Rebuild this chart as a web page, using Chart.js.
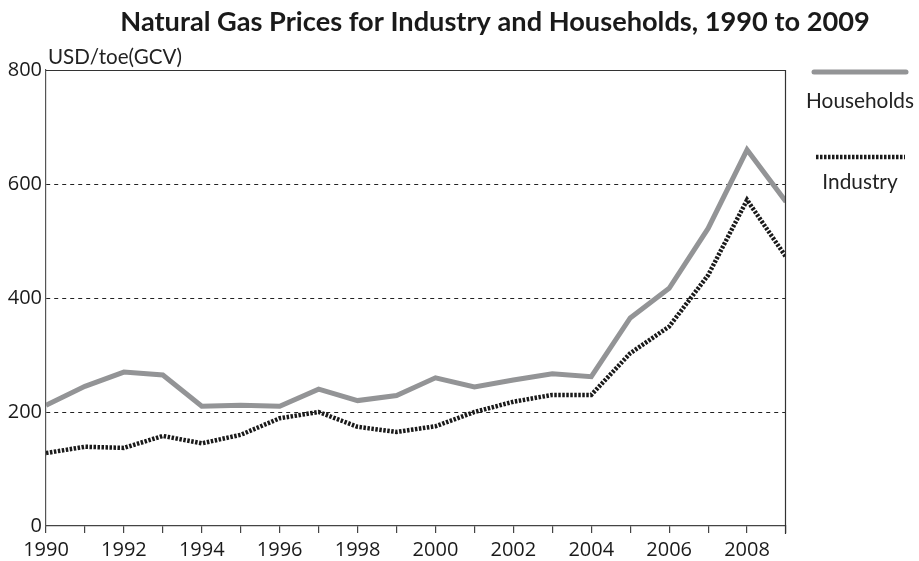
<!DOCTYPE html>
<html>
<head>
<meta charset="utf-8">
<script src="https://cdn.jsdelivr.net/npm/chart.js@4.4.1/dist/chart.umd.min.js"></script>
<style>
html,body{margin:0;padding:0;background:#fff;}
#wrap{width:919px;height:561px;position:relative;}
</style>
</head>
<body>
<div id="wrap"><canvas id="c" width="919" height="561"></canvas></div>
<script>
const years = [1990,1991,1992,1993,1994,1995,1996,1997,1998,1999,2000,2001,2002,2003,2004,2005,2006,2007,2008,2009];
const households = [212,245,270,265,210,212,210,240,220,229,260,244,256,267,262,365,417,522,660,569];
const industry = [128,139,137,158,145,160,189,200,174,165,175,200,218,230,230,303,350,440,572,472];
const yTicks = [0,200,400,600,800];
const xLabelYears = [1990,1992,1994,1996,1998,2000,2002,2004,2006,2008];
const titleText = 'Natural Gas Prices for Industry and Households, 1990 to 2009';
const unitText = 'USD/toe(GCV)';
const seriesNames = ['Households','Industry'];

const FONT = "'Open Sans', 'DejaVu Sans', sans-serif";
const TITLE_FONT = "'Lato', 'DejaVu Sans', sans-serif";
const LABEL_FONT = "'Lato', 'DejaVu Sans', sans-serif";

function fitFont(ctx, text, weight, family, targetW) {
  ctx.font = weight + ' 20px ' + family;
  const w = ctx.measureText(text).width;
  return 20 * targetW / w;
}

const decorPlugin = {
  id: 'decor',
  afterDraw(chart) {
    const ctx = chart.ctx;
    const a = chart.chartArea;
    ctx.save();
    // frame top and right
    ctx.strokeStyle = '#333';
    ctx.lineWidth = 1.2;
    ctx.beginPath();
    ctx.moveTo(a.left, a.top + 0.5);
    ctx.lineTo(a.right - 0.5, a.top + 0.5);
    ctx.lineTo(a.right - 0.5, a.bottom + 8);
    ctx.stroke();
    // title
    const ts = fitFont(ctx, titleText, 'bold', TITLE_FONT, 750);
    ctx.font = 'bold ' + ts + 'px ' + TITLE_FONT;
    ctx.fillStyle = '#1a1a1a';
    ctx.textAlign = 'center';
    ctx.textBaseline = 'middle';
    ctx.fillText(titleText, 495, 22);
    // unit
    const us = fitFont(ctx, unitText, 'normal', LABEL_FONT, 134);
    ctx.font = us + 'px ' + LABEL_FONT;
    ctx.textAlign = 'left';
    ctx.fillStyle = '#222';
    ctx.fillText(unitText, 48, 57);
    // legend
    const ds = chart.data.datasets;
    const items = [{y: 72, ty: 101, x0: 814, x1: 906}, {y: 157, ty: 182, x0: 816, x1: 905}];
    const ls = fitFont(ctx, ds[0].label, 'normal', LABEL_FONT, 108);
    ds.forEach((d, i) => {
      ctx.strokeStyle = d.borderColor;
      ctx.lineWidth = d.borderWidth;
      ctx.setLineDash(d.borderDash || []);
      ctx.lineCap = i === 0 ? 'round' : 'butt';
      ctx.beginPath();
      ctx.moveTo(items[i].x0, items[i].y);
      ctx.lineTo(items[i].x1, items[i].y);
      ctx.stroke();
      ctx.setLineDash([]);
      ctx.font = ls + 'px ' + LABEL_FONT;
      ctx.fillStyle = '#222';
      ctx.textAlign = 'center';
      ctx.fillText(d.label, 860, items[i].ty);
    });
    ctx.restore();
  }
};

new Chart(document.getElementById('c'), {
  type: 'line',
  data: {
    datasets: [
      {
        label: seriesNames[0],
        data: years.map((y, i) => ({x: y, y: households[i]})),
        borderColor: '#939496',
        borderWidth: 5,
        pointRadius: 0,
        tension: 0,
        borderJoinStyle: 'miter'
      },
      {
        label: seriesNames[1],
        data: years.map((y, i) => ({x: y, y: industry[i]})),
        borderColor: '#1a1a1a',
        borderWidth: 4.5,
        borderDash: [2.5, 1.5],
        pointRadius: 0,
        tension: 0
      }
    ]
  },
  options: {
    responsive: false,
    animation: false,
    devicePixelRatio: 1,
    layout: {padding: {left: 0, right: 133, top: 70, bottom: 0}},
    plugins: {legend: {display: false}, title: {display: false}, tooltip: {enabled: false}},
    scales: {
      x: {
        type: 'linear',
        min: 1990,
        max: 2009,
        afterBuildTicks(scale) { scale.ticks = years.map(v => ({value: v})); },
        afterFit(scale) { scale.height = 35; },
        ticks: {
          autoSkip: false,
          maxRotation: 0,
          padding: 5,
          color: '#1a1a1a',
          font: {family: FONT, size: 20},
          callback: (v) => xLabelYears.includes(v) ? String(v) : ''
        },
        grid: {drawOnChartArea: false, drawTicks: true, tickLength: 7, color: '#444', lineWidth: 1.2},
        border: {display: true, color: '#444', width: 1.2}
      },
      y: {
        min: 0,
        max: 800,
        afterBuildTicks(scale) { scale.ticks = yTicks.map(v => ({value: v})); },
        afterFit(scale) { scale.width = 46; },
        ticks: {
          padding: 4,
          color: '#1a1a1a',
          font: {family: FONT, size: 20},
          callback: (v) => String(v)
        },
        grid: {
          drawTicks: false,
          color: (c) => (c.tick && (c.tick.value === 0 || c.tick.value === 800)) ? 'rgba(0,0,0,0)' : '#222',
          lineWidth: 1
        },
        border: {display: true, color: '#555', width: 1.2, dash: [4, 4]}
      }
    }
  },
  plugins: [decorPlugin]
});
</script>
</body>
</html>
